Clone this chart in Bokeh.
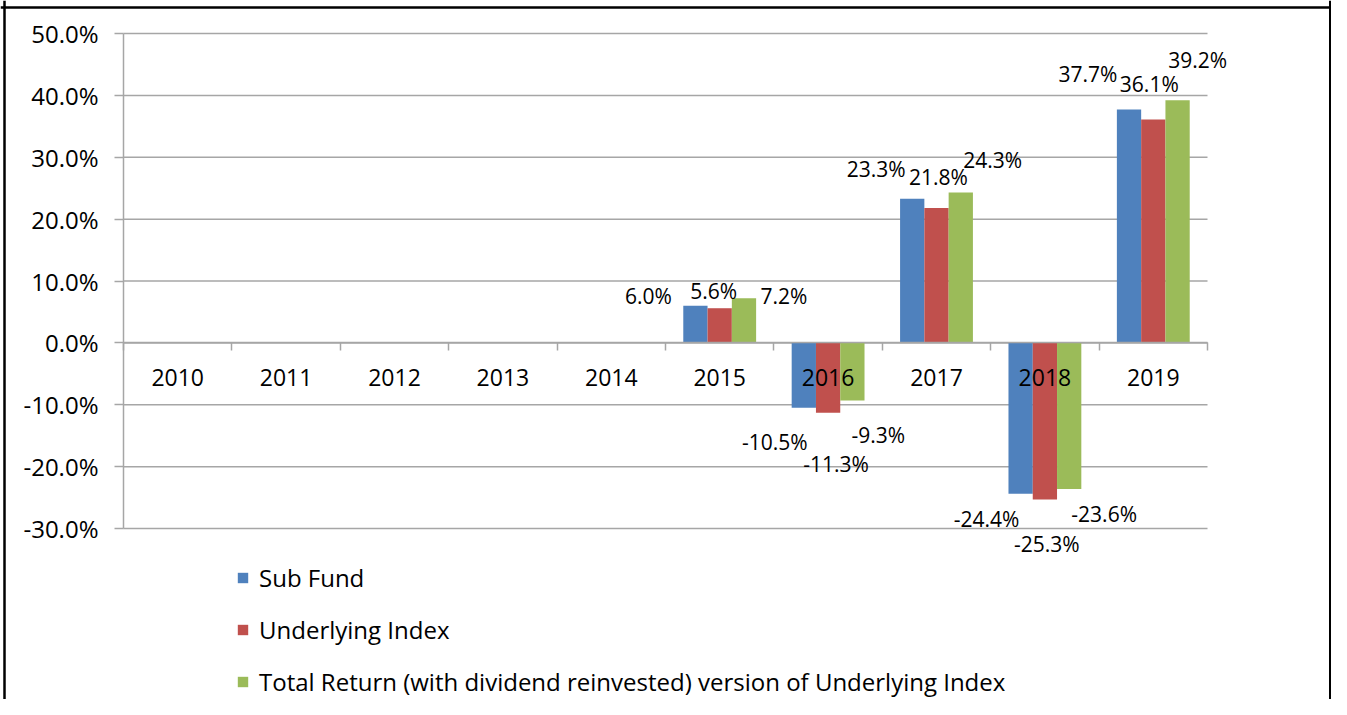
from bokeh.plotting import figure
from bokeh.models import (ColumnDataSource, Range1d, FixedTicker, LinearAxis,
                          PrintfTickFormatter, Legend, LegendItem, LabelSet, Span)
from bokeh.core.properties import value
from bokeh.transform import dodge
from bokeh.embed import file_html
from bokeh.resources import INLINE

# ---------------- data ----------------
years = ["2010", "2011", "2012", "2013", "2014", "2015", "2016", "2017", "2018", "2019"]
sub_fund = [None, None, None, None, None, 6.0, -10.5, 23.3, -24.4, 37.7]
underlying_index = [None, None, None, None, None, 5.6, -11.3, 21.8, -25.3, 36.1]
total_return = [None, None, None, None, None, 7.2, -9.3, 24.3, -23.6, 39.2]
series_names = ["Sub Fund", "Underlying Index",
                "Total Return (with dividend reinvested) version of Underlying Index"]
y_ticks = [-30, -20, -10, 0, 10, 20, 30, 40, 50]

# ---------------- style / layout ----------------
colors = ["#4F81BD", "#C0504D", "#9BBB59"]
bar_w = 0.224
bar_off = [-0.224, 0.0, 0.224]
grid_col = "#a6a6a6"
FONT = "Open Sans"
# label offsets (pixels) per series for the years with data (2015..2019)
label_dx = [[-47, -29, -36, -34, -41],
            [-6, 8, 2, 2, -4],
            [40, 26, 32, 35, 20]]
label_dy = [[10, -34, 30, -25, 36],
            [17, -51, 31, -44.5, 36],
            [2.5, -34.5, 33, -25, 40]]

W, H = 1331, 699             # canvas size
PLOT_L, PLOT_R = 123, 1207   # canvas pixel of x=0 and x=len(years)
PLOT_T, PLOT_B = 33, 528     # canvas pixel of y=max tick and y=min tick
ymin, ymax = y_ticks[0], y_ticks[-1]
n = len(years)
xs = (PLOT_R - PLOT_L) / n
ys = (PLOT_B - PLOT_T) / (ymax - ymin)
x_range = Range1d(-PLOT_L / xs, n + (W - PLOT_R) / xs)
y_range = Range1d(ymin - (H - PLOT_B) / ys, ymax + PLOT_T / ys)

p = figure(width=W, height=H, output_backend="svg", toolbar_location=None,
           x_range=x_range, y_range=y_range,
           min_border_left=0, min_border_right=0, min_border_top=0, min_border_bottom=0,
           x_axis_type=None, y_axis_type=None,
           background_fill_color="white", border_fill_color="white")
p.outline_line_color = None

xc = [i + 0.5 for i in range(n)]
nan = float("nan")
vals = [sub_fund, underlying_index, total_return]
src = ColumnDataSource(dict(
    xc=xc,
    s0=[nan if v is None else v for v in sub_fund],
    s1=[nan if v is None else v for v in underlying_index],
    s2=[nan if v is None else v for v in total_return],
))

# horizontal gridlines (only across the plot area)
p.segment(x0=[0] * len(y_ticks), x1=[n] * len(y_ticks), y0=y_ticks, y1=y_ticks,
          line_color=grid_col, line_width=1.5)

# y axis at x = 0
yax = LinearAxis(fixed_location=0, bounds=(ymin, ymax), ticker=FixedTicker(ticks=y_ticks),
                 formatter=PrintfTickFormatter(format="%.1f%%"))
yax.axis_line_color = grid_col
yax.axis_line_width = 1.5
yax.major_tick_line_color = grid_col
yax.major_tick_line_width = 1.5
yax.major_tick_out = 9
yax.major_tick_in = 0
yax.minor_tick_line_color = None
yax.major_label_text_font = FONT
yax.major_label_text_font_size = "24px"
yax.major_label_text_color = "black"
yax.major_label_standoff = 16
p.add_layout(yax, "left")

# x axis (ticks at category boundaries) at y = 0
xtick_ax = LinearAxis(fixed_location=0, bounds=(0, n),
                      ticker=FixedTicker(ticks=list(range(n + 1))))
xtick_ax.axis_line_color = grid_col
xtick_ax.axis_line_width = 1.5
xtick_ax.major_tick_line_color = grid_col
xtick_ax.major_tick_line_width = 1.5
xtick_ax.major_tick_out = 8
xtick_ax.major_tick_in = 0
xtick_ax.minor_tick_line_color = None
xtick_ax.major_label_text_color = None
xtick_ax.major_label_text_font_size = "1px"
p.add_layout(xtick_ax, "below")

# x axis category labels at y = 0
xlab_ax = LinearAxis(fixed_location=0, ticker=FixedTicker(ticks=xc),
                     major_label_overrides={x: y for x, y in zip(xc, years)})
xlab_ax.axis_line_color = None
xlab_ax.major_tick_line_color = None
xlab_ax.minor_tick_line_color = None
xlab_ax.major_tick_out = 0
xlab_ax.major_tick_in = 0
xlab_ax.major_label_text_font = FONT
xlab_ax.major_label_text_font_size = "23px"
xlab_ax.major_label_text_color = "black"
xlab_ax.major_label_standoff = 26
p.add_layout(xlab_ax, "below")

# bars
renderers = []
for k in range(3):
    r = p.vbar(x=dodge("xc", bar_off[k], range=p.x_range), top="s%d" % k, bottom=0,
               width=bar_w, source=src, fill_color=colors[k], line_color=None)
    renderers.append(r)

# data labels
lx, ly, lt, ldx, ldy = [], [], [], [], []
for k in range(3):
    j = 0
    for i, v in enumerate(vals[k]):
        if v is None:
            continue
        lx.append(xc[i] + bar_off[k])
        ly.append(v)
        lt.append("%.1f%%" % v)
        ldx.append(label_dx[k][j])
        ldy.append(label_dy[k][j])
        j += 1
lsrc = ColumnDataSource(dict(x=lx, y=ly, text=lt, dx=ldx, dy=ldy))
labels = LabelSet(x="x", y="y", text="text", x_offset="dx", y_offset="dy", source=lsrc,
                  text_font=value(FONT), text_font_size=value("21px"), text_color="black",
                  text_align="center", text_baseline="middle")
p.add_layout(labels)

# legend
legend = Legend(items=[LegendItem(label=series_names[k], renderers=[renderers[k]]) for k in range(3)],
                location=(236, 1), orientation="vertical")
legend.glyph_width = 13
legend.glyph_height = 13
legend.label_height = 22
legend.spacing = 19
legend.padding = 0
legend.margin = 0
legend.label_standoff = 10
legend.border_line_color = None
legend.background_fill_alpha = 0
legend.label_text_font = FONT
legend.label_text_font_size = "24px"
legend.label_text_color = "black"
p.add_layout(legend, "center")

# outer frame lines (left, top, right)
left_px, top_px = 4, 7
p.add_layout(Span(location=(left_px - PLOT_L) / xs, dimension="height",
                  line_color="black", line_width=2.5))
p.add_layout(Span(location=ymax + (PLOT_T - top_px) / ys, dimension="width",
                  line_color="black", line_width=2.5))
p.add_layout(Span(location=x_range.end, dimension="height", line_color="black", line_width=5))

open("out.html", "w").write(file_html(p, INLINE))
